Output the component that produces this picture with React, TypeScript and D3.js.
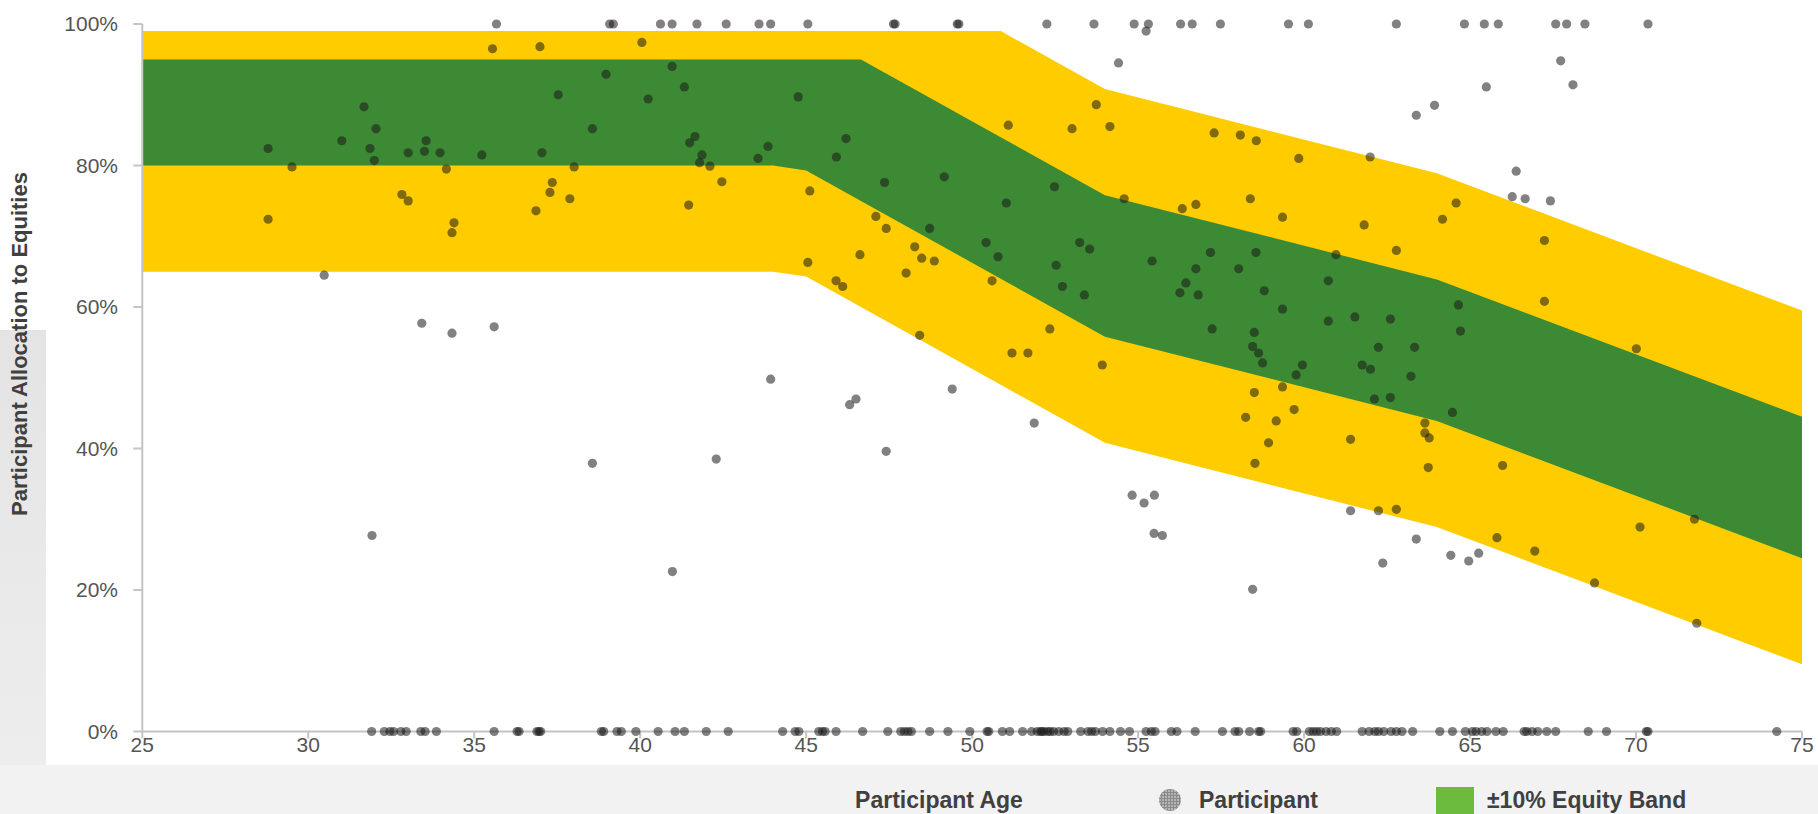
import React from "react";
import * as d3 from "d3";

// ---- Band (glide path corridor) ----
const bandAges = [25, 44, 45, 46.65, 50.86, 54, 64, 75];
const yellowTop = [99, 99, 99, 99, 99, 90.8, 78.9, 59.5];
const greenTop = [95, 95, 95, 95, 84, 75.8, 63.9, 44.5];
const greenBottom = [80, 80, 79.3, 75, 64, 55.8, 43.9, 24.5];
const yellowBottom = [65, 65, 64.3, 60, 49, 40.8, 28.9, 9.5];

// ---- Participants ----
const midAges = [
  28.79, 28.79, 29.51, 30.48, 31.01, 31.68, 31.86, 31.99, 32.04, 31.92, 32.82, 33.01, 33.01, 33.42, 33.5, 33.55,
  33.97, 34.16, 34.33, 34.33, 34.39, 35.23, 35.55, 35.6, 36.86, 36.98, 37.04, 37.28, 37.35, 37.53, 37.88, 38.01,
  38.56, 38.56, 38.97, 40.05, 40.24, 40.96, 40.97, 41.33, 41.46, 41.49, 41.65, 41.79, 41.86, 42.1, 42.29, 42.46,
  43.55, 43.85, 43.93, 44.76, 45.05, 45.11, 45.9, 45.91, 46.1, 46.2, 46.31, 46.5, 46.62, 47.1, 47.36, 47.41,
  47.41, 48.01, 48.27, 48.42, 48.48, 48.72, 48.86, 49.16, 49.4, 50.42, 50.6, 50.78, 51.03, 51.09, 51.2, 51.68,
  51.87, 52.34, 52.48, 52.53, 52.72, 53.01, 53.24, 53.38, 53.54, 53.74, 53.92, 54.15, 54.41, 54.58, 54.82, 55.18,
  55.24, 55.42, 55.48, 55.49, 55.73, 56.26, 56.33, 56.44, 56.74, 56.74, 56.81, 57.18, 57.23, 57.29, 58.03, 58.08,
  58.24, 58.38, 58.45, 58.45, 58.5, 58.5, 58.52, 58.55, 58.56, 58.63, 58.75, 58.8, 58.93, 59.16, 59.35, 59.35,
  59.35, 59.7, 59.76, 59.84, 59.95, 60.73, 60.73, 60.96, 61.4, 61.4, 61.53, 61.75, 61.81, 61.99, 62.0, 62.12,
  62.24, 62.24, 62.37, 62.6, 62.6, 62.78, 62.78, 63.22, 63.33, 63.38, 63.38, 63.64, 63.64, 63.74, 63.77, 63.93,
  64.17, 64.42, 64.47, 64.58, 64.65, 64.71, 64.96, 65.26, 65.49, 65.81, 65.98, 66.27, 66.39, 66.66, 66.95, 67.24,
  67.24, 67.42, 67.73, 68.1, 68.75, 70.01, 70.12, 71.76, 71.83,
];
const midAlloc = [
  82.4, 72.4, 79.8, 64.5, 83.5, 88.3, 82.4, 80.7, 85.2, 27.7, 75.9, 75.0, 81.8, 57.7, 82.0, 83.5,
  81.8, 79.5, 56.3, 70.5, 71.9, 81.5, 96.5, 57.2, 73.6, 96.8, 81.8, 76.2, 77.6, 90.0, 75.3, 79.8,
  85.2, 37.9, 92.9, 97.4, 89.4, 94.0, 22.6, 91.1, 74.4, 83.2, 84.1, 80.4, 81.5, 79.9, 38.5, 77.7,
  81.0, 82.7, 49.8, 89.7, 66.3, 76.4, 63.7, 81.2, 62.9, 83.8, 46.2, 47.0, 67.4, 72.8, 77.6, 71.1,
  39.6, 64.8, 68.5, 56.0, 66.9, 71.1, 66.5, 78.4, 48.4, 69.1, 63.7, 67.1, 74.7, 85.7, 53.5, 53.5,
  43.6, 56.9, 77.0, 65.9, 62.9, 85.2, 69.1, 61.7, 68.2, 88.6, 51.8, 85.5, 94.5, 75.3, 33.4, 32.3,
  99.0, 66.5, 28.0, 33.4, 27.7, 62.0, 73.9, 63.4, 74.5, 65.4, 61.7, 67.7, 56.9, 84.6, 65.4, 84.3,
  44.4, 75.3, 54.4, 20.1, 56.4, 47.9, 37.9, 67.7, 83.5, 53.5, 52.1, 62.3, 40.8, 43.9, 72.7, 59.7,
  48.7, 45.5, 50.4, 81.0, 51.8, 63.7, 58.0, 67.4, 41.3, 31.2, 58.6, 51.8, 71.6, 81.2, 51.2, 47.0,
  54.3, 31.2, 23.8, 58.3, 47.2, 68.0, 31.4, 50.2, 54.3, 87.1, 27.2, 43.6, 42.2, 37.3, 41.5, 88.5,
  72.4, 24.9, 45.1, 74.7, 60.3, 56.6, 24.1, 25.2, 91.1, 27.4, 37.6, 75.6, 79.2, 75.3, 25.5, 69.4,
  60.8, 75.0, 94.8, 91.4, 21.0, 54.1, 28.9, 30.0, 15.3,
];
const zeroAges = [
  31.91, 32.29, 32.46, 32.57, 32.79, 32.95, 33.39, 33.52, 33.86, 35.6, 36.29, 36.35, 36.89, 36.95, 37.0, 38.83,
  38.9, 39.3, 39.43, 39.87, 40.54, 41.05, 41.33, 41.99, 42.65, 44.29, 44.67, 44.78, 45.38, 45.49, 45.57, 45.9,
  46.7, 47.46, 47.85, 47.96, 48.07, 48.17, 48.72, 49.27, 49.93, 50.45, 50.5, 50.91, 51.13, 51.52, 51.79, 51.96,
  52.06, 52.1, 52.17, 52.28, 52.35, 52.45, 52.61, 52.77, 52.88, 53.27, 53.49, 53.6, 53.71, 53.93, 54.15, 54.47,
  54.74, 55.24, 55.4, 55.51, 56.0, 56.17, 56.72, 57.54, 57.92, 58.03, 58.36, 58.63, 58.69, 59.67, 59.78, 60.16,
  60.27, 60.38, 60.49, 60.66, 60.82, 60.98, 61.75, 61.96, 62.13, 62.24, 62.4, 62.62, 62.78, 62.95, 63.27, 64.09,
  64.47, 64.86, 65.07, 65.18, 65.35, 65.51, 65.78, 66.0, 66.63, 66.71, 66.87, 67.04, 67.31, 67.58, 68.56, 69.11,
  70.31, 70.36, 74.24,
];
const fullAges = [
  35.67, 39.08, 39.19, 40.61, 40.96, 41.71, 42.59, 43.58, 43.93, 45.05, 47.63, 47.68, 49.55, 49.6, 52.25, 53.67,
  54.88, 55.31, 56.28, 56.63, 57.48, 59.53, 60.13, 62.78, 64.83, 65.43, 65.85, 67.58, 67.91, 68.46, 70.36,
];

const xTicks = [25, 30, 35, 40, 45, 50, 55, 60, 65, 70, 75];
const yTicks = [0, 20, 40, 60, 80, 100];
const yTitle = "Participant Allocation to Equities";
const xTitle = "Participant Age";
const legendDot = "Participant";
const legendBand = "\u00B110% Equity Band";

const W = 1818;
const H = 814;
const FONT = "'Liberation Sans', Arial, sans-serif";

export default function App() {
  const x = d3.scaleLinear().domain([25, 75]).range([142.3, 1802]);
  const y = d3.scaleLinear().domain([0, 100]).range([731.5, 24]);

  const idx = d3.range(bandAges.length);
  const yellowArea = d3
    .area<number>()
    .x((i) => x(bandAges[i]))
    .y0((i) => y(yellowBottom[i]))
    .y1((i) => y(yellowTop[i]))(idx) as string;
  const greenArea = d3
    .area<number>()
    .x((i) => x(bandAges[i]))
    .y0((i) => y(greenBottom[i]))
    .y1((i) => y(greenTop[i]))(idx) as string;

  const pts: [number, number][] = [];
  midAges.forEach((a, i) => pts.push([a, midAlloc[i]]));
  zeroAges.forEach((a) => pts.push([a, 0]));
  fullAges.forEach((a) => pts.push([a, 100]));

  const axisColor = "#c4c4c4";
  const tickText = "#555";

  return (
    <svg
      width={W}
      height={H}
      style={{ position: "absolute", left: 0, top: 0, display: "block" }}
      fontFamily={FONT}
    >
      <defs>
        <linearGradient id="leftGrad" x1="0" y1="0" x2="0" y2="1">
          <stop offset="0" stopColor="#e4e4e4" />
          <stop offset="1" stopColor="#eeeeee" />
        </linearGradient>
        <pattern id="hatch" width="3" height="3" patternUnits="userSpaceOnUse">
          <rect width="3" height="3" fill="#b5b5b5" />
          <path d="M0 0.5H3M0.5 0V3" stroke="#8a8a8a" strokeWidth="1" />
        </pattern>
      </defs>
      <rect x={0} y={0} width={W} height={H} fill="#ffffff" />
      <rect x={0} y={330} width={46} height={H - 330} fill="url(#leftGrad)" />
      <rect x={0} y={765} width={W} height={H - 765} fill="#f2f2f2" />

      {/* bands */}
      <path d={yellowArea} fill="#ffcc00" />
      <path d={greenArea} fill="#3c8a33" />

      {/* axes */}
      <line x1={x(25)} x2={x(25)} y1={y(100)} y2={y(0)} stroke={axisColor} strokeWidth={2} />
      <line x1={x(25)} x2={x(75)} y1={y(0)} y2={y(0)} stroke={axisColor} strokeWidth={2} />
      {yTicks.map((t) => (
        <g key={"y" + t}>
          <line x1={x(25) - 9} x2={x(25)} y1={y(t)} y2={y(t)} stroke={axisColor} strokeWidth={2} />
          <text x={118} y={y(t)} dy="0.35em" textAnchor="end" fontSize={21} fill={tickText}>
            {t + "%"}
          </text>
        </g>
      ))}
      {xTicks.map((t) => (
        <g key={"x" + t}>
          <line x1={x(t)} x2={x(t)} y1={y(0)} y2={y(0) + 7} stroke={axisColor} strokeWidth={2} />
          <text x={x(t)} y={y(0) + 13} dy="0.35em" textAnchor="middle" fontSize={21} fill={tickText}>
            {t}
          </text>
        </g>
      ))}

      {/* participants */}
      {pts.map(([a, v], i) => (
        <circle key={i} cx={x(a)} cy={y(v)} r={4.6} fill="#1a1a1a" fillOpacity={0.55} />
      ))}

      {/* y title */}
      <text
        transform={`translate(27, 344) rotate(-90)`}
        textAnchor="middle"
        fontSize={22}
        fontWeight="bold"
        fill="#404040"
      >
        {yTitle}
      </text>

      {/* legend / x title */}
      <text x={939} y={808} textAnchor="middle" fontSize={23} fontWeight="bold" fill="#404040">
        {xTitle}
      </text>
      <circle cx={1170} cy={800} r={11} fill="url(#hatch)" />
      <text x={1199} y={808} fontSize={23} fontWeight="bold" fill="#404040">
        {legendDot}
      </text>
      <rect x={1436} y={787} width={38} height={27} fill="#6cbb3c" />
      <text x={1487} y={808} fontSize={23} fontWeight="bold" fill="#404040">
        {legendBand}
      </text>
    </svg>
  );
}
